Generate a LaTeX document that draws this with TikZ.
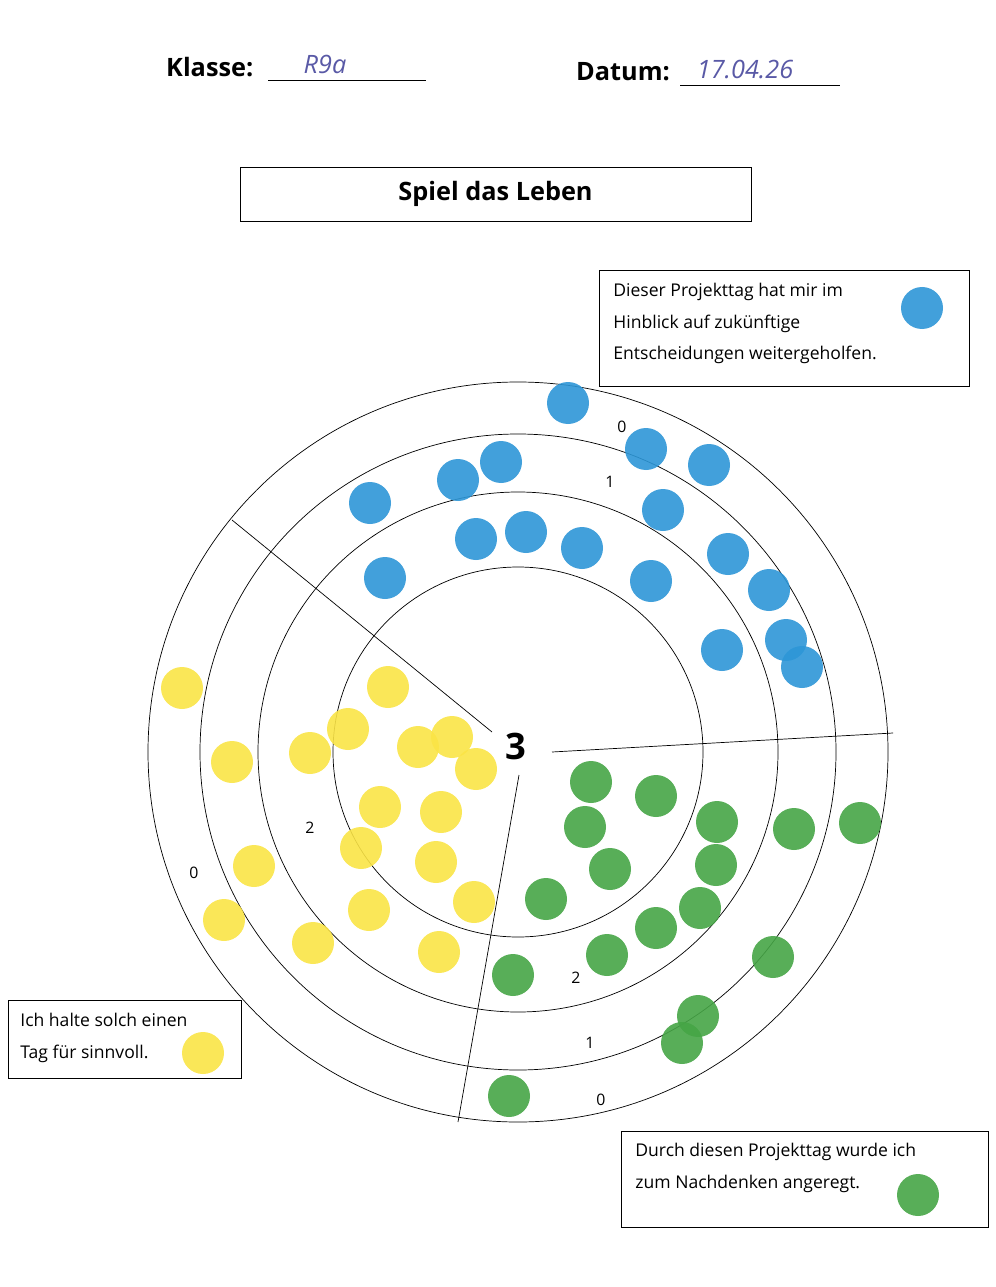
\documentclass[tikz,border=0pt]{standalone}
\usepackage{fontspec}
\setmainfont{Open Sans}
\usetikzlibrary{positioning}
\definecolor{dotblue}{RGB}{45,150,215}
\definecolor{dotyellow}{RGB}{250,228,70}
\definecolor{dotgreen}{RGB}{70,165,70}
\tikzset{
	dot/.style={fill=#1, draw=none, opacity=.9},
	ring/.style={draw, thin},
	infotext/.style={align=left, font=\normalsize, inner sep=0pt, anchor=north west, text depth=0pt},
	num/.style={font=\small},
	hand/.style={font=\itshape\Large, text=gray!70!blue}
}
\begin{document}
\begin{tikzpicture}[x=0.02cm, y=-0.02cm]
  \useasboundingbox (0,0) rectangle (995,1287);
  % header
  \node[font=\Large\bfseries, anchor=west] (klasse) at (160,67) {Klasse:};
  \draw (268,80) -- (426,80);
  \node[hand] (klassewert) at (325,64) {R9a};
  \node[font=\Large\bfseries, anchor=west] (datum) at (570,72) {Datum:};
  \draw (680,85) -- (840,85);
  \node[hand] (datumwert) at (745,70) {17.04.26};
  % title
  \node[draw, thin, minimum width=10.22cm, minimum height=1.08cm, font=\Large\bfseries] (titel) at (495.5,194) {Spiel das Leben};
  % rings
  \coordinate (mitte) at (518,752);
  \foreach \r in {370,318,260,185} \draw[ring] (mitte) circle (\r);
  \draw (232,520) -- (492,732);
  \draw (552,752) -- (893,733);
  \draw (519,775) -- (458,1122);
  \node[font=\huge\bfseries] (drei) at (516,746) {3};
  % blue
  \foreach \p in {(568,403),(646,449),(709,465),(501,462),(458,480),(370,503),(663,510),(476,539),(526,532),(582,548),(728,554),(651,581),(385,578),(769,590),(786,640),(722,650),(802,667)}
    \fill[dot=dotblue] \p circle (21);
  % yellow
  \foreach \p in {(182,688),(388,687),(348,729),(418,747),(452,737),(476,769),(310,753),(232,762),(380,807),(441,812),(361,848),(436,862),(254,866),(474,902),(369,910),(224,920),(313,943),(439,952)}
    \fill[dot=dotyellow] \p circle (21);
  % green
  \foreach \p in {(591,782),(656,796),(585,827),(717,822),(794,829),(860,823),(610,869),(716,865),(546,899),(700,908),(656,928),(607,955),(773,957),(513,975),(698,1016),(682,1043),(509,1096)}
    \fill[dot=dotgreen] \p circle (21);
  % ring numbers
  \node[num] (b0) at (622,427) {0};
  \node[num] (b1) at (610,482) {1};
  \node[num] (y2) at (310,828) {2};
  \node[num] (y0) at (194,873) {0};
  \node[num] (g2) at (576,978) {2};
  \node[num] (g1) at (590,1043) {1};
  \node[num] (g0) at (601,1100) {0};
  % legend boxes
  \draw (599,270) rectangle (969,386);
  \node[infotext] (blautext) at (613,283)
    {Dieser Projekttag hat mir im\\[6pt] Hinblick auf zukünftige\\[6pt] Entscheidungen weitergeholfen.};
  \fill[dot=dotblue] (922,308) circle (21);
  \draw (8,1000) rectangle (241,1078);
  \node[infotext] (gelbtext) at (20,1013)
    {Ich halte solch einen\\[6pt] Tag für sinnvoll.};
  \fill[dot=dotyellow] (203,1053) circle (21);
  \draw (621,1131) rectangle (988,1227);
  \node[infotext] (gruentext) at (635,1143)
    {Durch diesen Projekttag wurde ich\\[6pt] zum Nachdenken angeregt.};
  \fill[dot=dotgreen] (918,1195) circle (21);
\end{tikzpicture}
\end{document}
